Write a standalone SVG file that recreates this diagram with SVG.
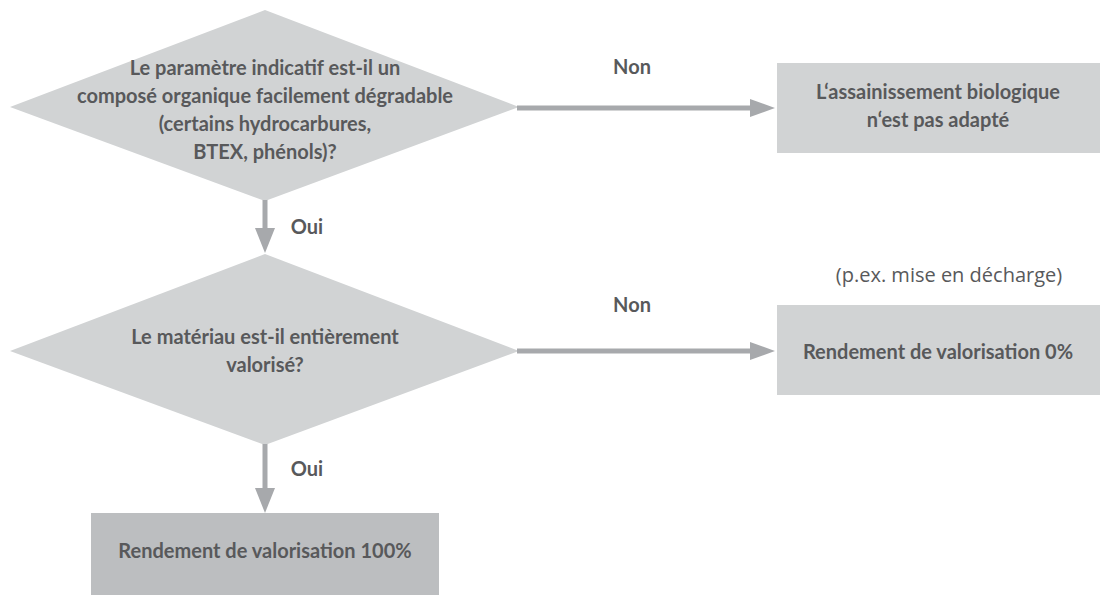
<svg xmlns="http://www.w3.org/2000/svg" width="1112" height="595" viewBox="0 0 1112 595">
<style>
.shape{fill:#d1d3d4;stroke:none}
.dark{fill:#bcbec0;stroke:none}
.t{font-family:Lato,"Liberation Sans",sans-serif;font-weight:bold;font-size:20px;fill:#58595b;text-anchor:middle}
.n{font-family:"Open Sans","Liberation Sans",sans-serif;font-size:20px;fill:#58595b;text-anchor:middle}
.c{stroke:#a7a9ac;stroke-width:5;fill:none}
.h{fill:#a7a9ac}
</style>
<rect width="1112" height="595" fill="#ffffff"/>
<g id="d1">
<polygon class="shape" points="265,10 519,107 265,201 10,107"/>
<text class="t" x="265" y="75">Le paramètre indicatif est-il un</text>
<text class="t" x="265" y="103">composé organique facilement dégradable</text>
<text class="t" x="265" y="131">(certains hydrocarbures,</text>
<text class="t" x="265" y="159">BTEX, phénols)?</text>
</g>
<g id="b1">
<rect class="shape" x="777" y="63" width="323" height="90"/>
<text class="t" x="938" y="99">L‘assainissement biologique</text>
<text class="t" x="938" y="127">n‘est pas adapté</text>
</g>
<g id="d2">
<polygon class="shape" points="265,254 519,351 265,445 10,351"/>
<text class="t" x="265" y="344">Le matériau est-il entièrement</text>
<text class="t" x="265" y="372">valorisé?</text>
</g>
<g id="note">
<text class="n" x="949" y="282">(p.ex. mise en décharge)</text>
</g>
<g id="b2">
<rect class="shape" x="777" y="305" width="323" height="90"/>
<text class="t" x="938" y="359">Rendement de valorisation 0%</text>
</g>
<g id="b3">
<rect class="dark" x="91" y="513" width="348" height="82"/>
<text class="t" x="265" y="558">Rendement de valorisation 100%</text>
</g>
<g id="connectors">
<line class="c" x1="517" y1="108" x2="752" y2="108"/>
<polygon class="h" points="750,99 775,108 750,117"/>
<text class="t" x="632" y="74">Non</text>
<line class="c" x1="517" y1="351" x2="752" y2="351"/>
<polygon class="h" points="750,342 775,351 750,360"/>
<text class="t" x="632" y="312">Non</text>
<line class="c" x1="265" y1="200" x2="265" y2="230"/>
<polygon class="h" points="255,228 265,253 275,228"/>
<text class="t" x="307" y="234">Oui</text>
<line class="c" x1="265" y1="444" x2="265" y2="490"/>
<polygon class="h" points="255,488 265,513 275,488"/>
<text class="t" x="307" y="476">Oui</text>
</g>
</svg>
